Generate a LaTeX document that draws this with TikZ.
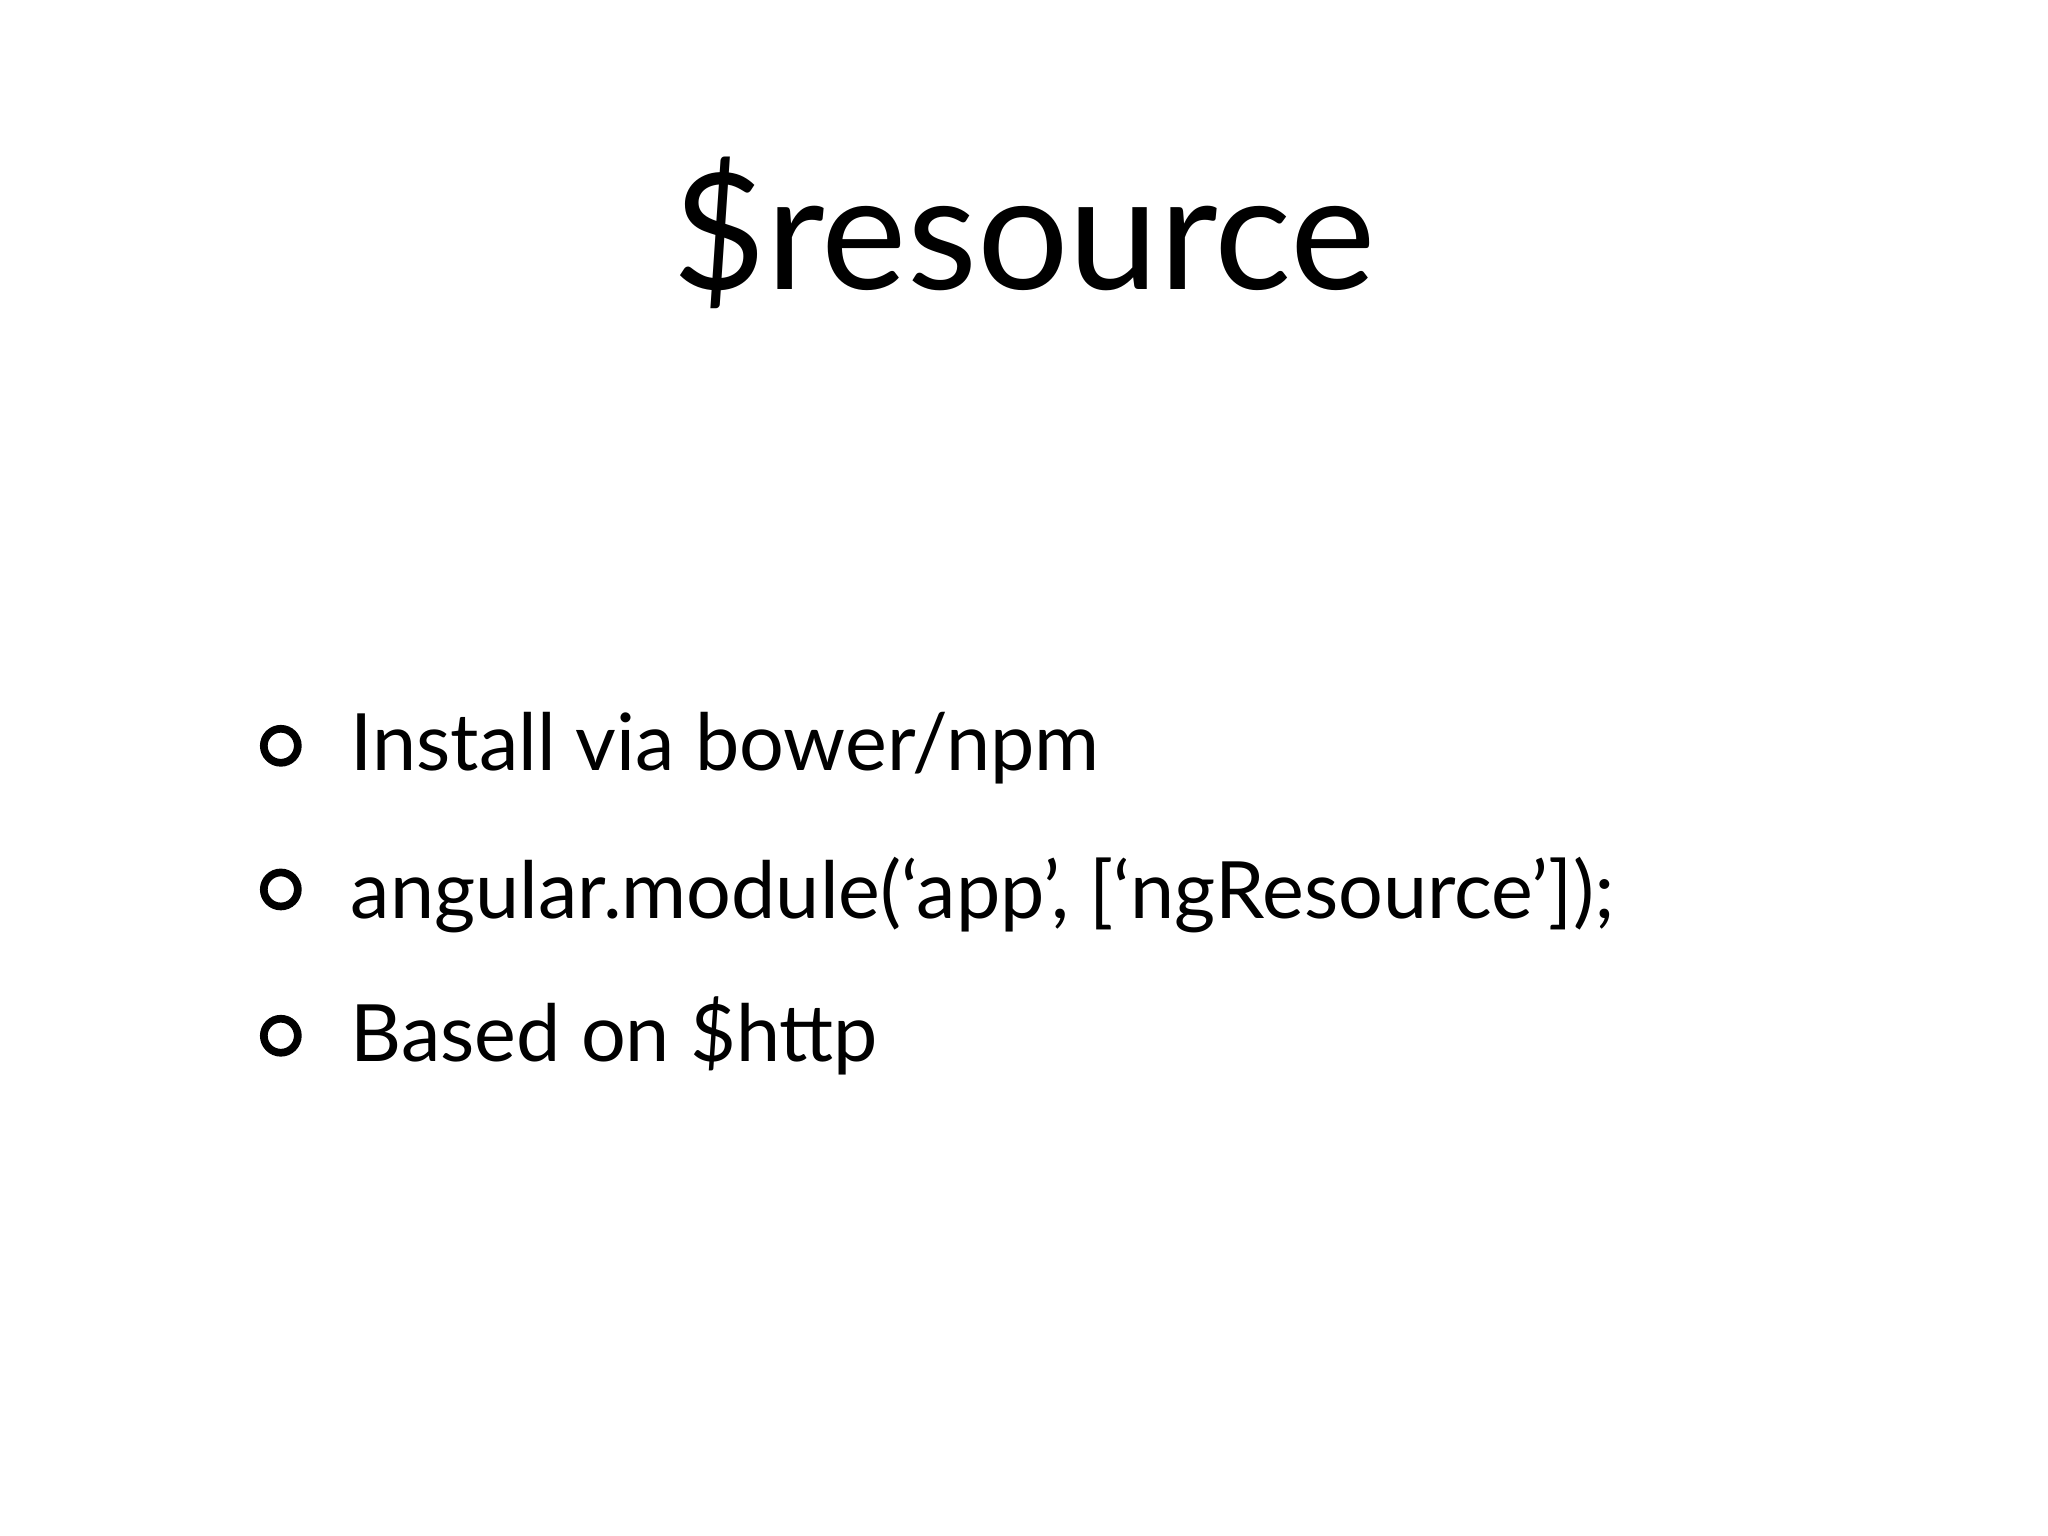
\documentclass[tikz,border=0pt]{standalone}
\usepackage{fontspec}
\setmainfont{Lato}
\begin{document}
\begin{tikzpicture}[x=0.01306cm,y=-0.01306cm,
  bul/.style={draw,line width=2.2pt,circle,minimum size=0.34cm,inner sep=0pt},
  itm/.style={anchor=base west,inner sep=0pt,font=\fontsize{22.5}{26}\selectfont}]
\useasboundingbox (0,0) rectangle (1568,1176);
\node[anchor=base,inner sep=0pt,font=\fontsize{46}{52}\selectfont] (title) at (784,222) {\$resource};
\node[bul] (b1) at (215,571) {};
\node[itm] (t1) at (268,590) {Install via bower/npm};
\node[bul] (b2) at (215,681) {};
\node[itm] (t2) at (268,703) {angular.module(‘app’, [‘ngResource’]);};
\node[bul] (b3) at (215,793) {};
\node[itm] (t3) at (268,813) {Based on \$http};
\end{tikzpicture}
\end{document}
